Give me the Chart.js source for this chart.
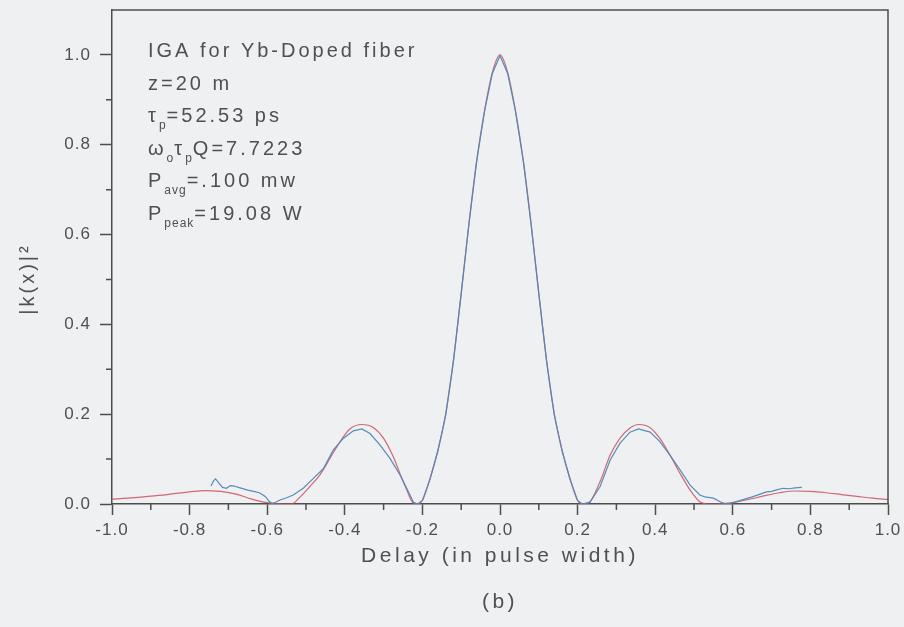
<!DOCTYPE html>
<html>
<head>
<meta charset="utf-8">
<script src="https://cdn.jsdelivr.net/npm/chart.js@4.4.1/dist/chart.umd.min.js"></script>
<style>
  html, body { margin: 0; padding: 0; background: #eef0f2; }
  canvas { display: block; }
</style>
</head>
<body>
<canvas id="kChart" width="904" height="627"></canvas>
<script>
  // calculated (red) and measured (blue) |k(x)|^2
  var redDelay = [-1.00, -0.96, -0.92, -0.88, -0.84, -0.80, -0.76, -0.72, -0.68, -0.64, -0.60, -0.56,
    -0.537, -0.515, -0.49, -0.464, -0.438, -0.412, -0.387, -0.356, -0.326, -0.30, -0.275, -0.258, -0.24, -0.228, -0.215,
    -0.20, -0.18, -0.16, -0.14, -0.12, -0.10, -0.08, -0.06, -0.04, -0.02, 0.00,
    0.02, 0.04, 0.06, 0.08, 0.10, 0.12, 0.14, 0.16, 0.18, 0.20,
    0.215, 0.228, 0.258, 0.284, 0.309, 0.335, 0.357, 0.387, 0.412, 0.438, 0.464, 0.49, 0.515, 0.535,
    0.56, 0.60, 0.64, 0.68, 0.72, 0.76, 0.80, 0.84, 0.88, 0.92, 0.96, 1.00];
  var redK = [0.011, 0.013, 0.016, 0.019, 0.023, 0.027, 0.030, 0.028, 0.022, 0.011, 0.003, 0.000,
    0.000, 0.016, 0.039, 0.065, 0.102, 0.139, 0.167, 0.177, 0.170, 0.146, 0.105, 0.068, 0.031, 0.007, 0.000,
    0.008, 0.058, 0.120, 0.200, 0.320, 0.470, 0.625, 0.765, 0.875, 0.960, 1.000,
    0.960, 0.875, 0.765, 0.625, 0.470, 0.320, 0.200, 0.120, 0.058, 0.008,
    0.000, 0.002, 0.050, 0.109, 0.146, 0.169, 0.177, 0.170, 0.146, 0.109, 0.068, 0.031, 0.005, 0.000,
    0.000, 0.003, 0.010, 0.018, 0.025, 0.029, 0.028, 0.025, 0.021, 0.017, 0.013, 0.010];

  var blueDelay = [-0.745, -0.738, -0.733, -0.725, -0.715, -0.705, -0.695, -0.685, -0.670, -0.650, -0.635, -0.620,
    -0.605, -0.595, -0.588, -0.578, -0.567, -0.550, -0.533, -0.507, -0.481, -0.455, -0.430, -0.404, -0.378,
    -0.356, -0.335, -0.309, -0.284, -0.258, -0.236, -0.223, -0.212,
    -0.20, -0.18, -0.16, -0.14, -0.12, -0.10, -0.08, -0.06, -0.04, -0.02, 0.00,
    0.02, 0.04, 0.06, 0.08, 0.10, 0.12, 0.14, 0.16, 0.18, 0.20,
    0.212, 0.232, 0.258, 0.284, 0.309, 0.335, 0.357, 0.387, 0.412, 0.438, 0.464, 0.490, 0.515, 0.528,
    0.550, 0.570, 0.585, 0.600, 0.620, 0.650, 0.687, 0.700, 0.715, 0.730, 0.745, 0.760, 0.778];
  var blueK = [0.040, 0.052, 0.056, 0.047, 0.037, 0.035, 0.041, 0.040, 0.036, 0.031, 0.028, 0.025,
    0.017, 0.006, 0.001, 0.004, 0.009, 0.014, 0.020, 0.035, 0.057, 0.079, 0.120, 0.146, 0.163,
    0.167, 0.157, 0.131, 0.102, 0.065, 0.027, 0.004, 0.000,
    0.008, 0.056, 0.118, 0.198, 0.318, 0.468, 0.624, 0.764, 0.874, 0.958, 0.998,
    0.958, 0.874, 0.764, 0.624, 0.468, 0.318, 0.198, 0.118, 0.056, 0.008,
    0.000, 0.004, 0.039, 0.098, 0.135, 0.160, 0.167, 0.160, 0.139, 0.109, 0.076, 0.042, 0.020, 0.016,
    0.013, 0.004, 0.000, 0.003, 0.008, 0.016, 0.027, 0.028, 0.032, 0.035, 0.034, 0.036, 0.037];

  var xTicks = [-1.0, -0.8, -0.6, -0.4, -0.2, 0.0, 0.2, 0.4, 0.6, 0.8, 1.0];
  var yTicks = [0.0, 0.2, 0.4, 0.6, 0.8, 1.0];

  // text block, [text, subscript?]
  var notes = [
    [['IGA for Yb-Doped fiber', false]],
    [['z=20 m', false]],
    [['\u03c4', false], ['p', true], ['=52.53 ps', false]],
    [['\u03c9', false], ['o', true], ['\u03c4', false], ['p', true], ['Q=7.7223', false]],
    [['P', false], ['avg', true], ['=.100 mw', false]],
    [['P', false], ['peak', true], ['=19.08 W', false]]
  ];
  var xTitle = 'Delay (in pulse width)';
  var panelLabel = '(b)';
  var yTitle = '|k(x)|\u00b2';

  var fontFam = '"Liberation Sans", Arial, sans-serif';
  var ink = '#4d4d4d';
  var textInk = '#505050';

  function pairs(xs, ys) {
    return xs.map(function (x, i) { return { x: x, y: ys[i] }; });
  }

  var extras = {
    id: 'extras',
    beforeDraw: function (chart) {
      var ctx = chart.ctx;
      ctx.save();
      ctx.fillStyle = '#eef0f2';
      ctx.fillRect(0, 0, chart.width, chart.height);
      ctx.restore();
      ctx.letterSpacing = '1px';
    },
    afterDraw: function (chart) {
      var ctx = chart.ctx, a = chart.chartArea;
      var xs = chart.scales.x, ys = chart.scales.y;
      var i;
      ctx.save();
      ctx.strokeStyle = ink;
      ctx.lineWidth = 1.5;
      ctx.beginPath();
      // top and right frame
      ctx.moveTo(a.left, a.top);
      ctx.lineTo(a.right, a.top);
      ctx.lineTo(a.right, a.bottom);
      // minor ticks
      for (i = 0; i < xTicks.length - 1; i++) {
        var px = xs.getPixelForValue((xTicks[i] + xTicks[i + 1]) / 2);
        ctx.moveTo(px, a.bottom);
        ctx.lineTo(px, a.bottom + 6);
      }
      for (i = 0; i < yTicks.length - 1; i++) {
        var py = ys.getPixelForValue((yTicks[i] + yTicks[i + 1]) / 2);
        ctx.moveTo(a.left, py);
        ctx.lineTo(a.left - 6, py);
      }
      ctx.stroke();

      // annotation
      ctx.fillStyle = textInk;
      ctx.textBaseline = 'alphabetic';
      ctx.textAlign = 'left';
      for (i = 0; i < notes.length; i++) {
        var x = a.left + 36;
        var y = a.top + 47 + i * 32.6;
        notes[i].forEach(function (seg) {
          ctx.letterSpacing = seg[1] ? '1px' : '3px';
          ctx.font = (seg[1] ? '12px ' : '20px ') + fontFam;
          ctx.fillText(seg[0], x, seg[1] ? y + 7 : y);
          x += ctx.measureText(seg[0]).width;
        });
      }

      // axis titles
      ctx.textAlign = 'center';
      ctx.textBaseline = 'middle';
      ctx.letterSpacing = '3.5px';
      ctx.font = '21px ' + fontFam;
      var cx = (a.left + a.right) / 2;
      ctx.fillText(xTitle, cx, 556);
      ctx.fillText(panelLabel, cx, 602);

      ctx.translate(28, 279);
      ctx.rotate(-Math.PI / 2);
      ctx.letterSpacing = '3px';
      ctx.font = '20px ' + fontFam;
      ctx.fillText(yTitle, 0, 0);
      ctx.restore();
    }
  };

  var ctx = document.getElementById('kChart').getContext('2d');
  var myChart = new Chart(ctx, {
    type: 'scatter',
    data: {
      datasets: [{
        label: 'measured',
        data: pairs(blueDelay, blueK),
        showLine: true,
        borderColor: 'rgba(80, 135, 180, 0.95)',
        borderWidth: 1.2,
        pointRadius: 0,
        tension: 0
      }, {
        label: 'calculated',
        data: pairs(redDelay, redK),
        showLine: true,
        borderColor: 'rgba(205, 80, 95, 0.85)',
        borderWidth: 1.2,
        pointRadius: 0,
        cubicInterpolationMode: 'monotone'
      }]
    },
    options: {
      responsive: false,
      animation: false,
      devicePixelRatio: 1,
      layout: { padding: { left: 0, top: 10, right: 16, bottom: 0 } },
      plugins: {
        legend: { display: false },
        tooltip: { enabled: false }
      },
      scales: {
        x: {
          type: 'linear',
          min: -1,
          max: 1,
          afterBuildTicks: function (scale) {
            scale.ticks = xTicks.map(function (v) { return { value: v }; });
          },
          afterFit: function (scale) {
            scale.height = 123;
            scale.paddingLeft = 0;
            scale.paddingRight = 0;
          },
          ticks: {
            color: textInk,
            font: { family: fontFam, size: 17 },
            padding: 5,
            maxRotation: 0,
            callback: function (v) { return v.toFixed(1); }
          },
          grid: { drawOnChartArea: false, drawTicks: true, tickLength: 11, tickColor: ink, tickWidth: 1.5 },
          border: { display: true, color: ink, width: 1.5 }
        },
        y: {
          min: 0,
          max: 1.1,
          afterBuildTicks: function (scale) {
            scale.ticks = yTicks.map(function (v) { return { value: v }; });
          },
          afterFit: function (scale) {
            scale.width = 112;
            scale.paddingTop = 0;
            scale.paddingBottom = 0;
          },
          ticks: {
            color: textInk,
            font: { family: fontFam, size: 17 },
            padding: 9,
            callback: function (v) { return v.toFixed(1); }
          },
          grid: { drawOnChartArea: false, drawTicks: true, tickLength: 12, tickColor: ink, tickWidth: 1.5 },
          border: { display: true, color: ink, width: 1.5 }
        }
      }
    },
    plugins: [extras]
  });
</script>
</body>
</html>
